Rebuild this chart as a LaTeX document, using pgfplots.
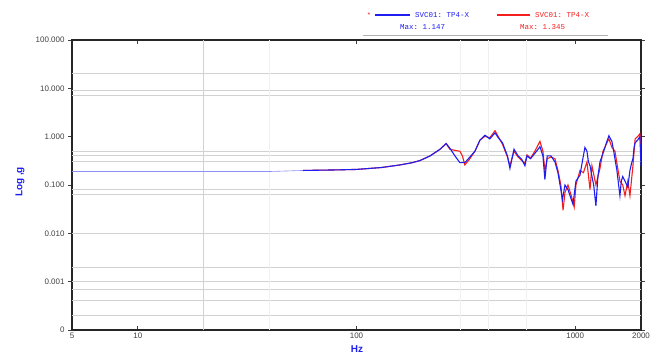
\documentclass[border=0pt]{standalone}
\usepackage{pgfplots}
\pgfplotsset{compat=1.18}
\usepackage{fontspec}
\setmainfont{Liberation Sans}
\setmonofont{Liberation Mono}
\definecolor{cblue}{RGB}{30,30,240}
\definecolor{cred}{RGB}{245,30,30}
\definecolor{gridg}{RGB}{210,210,210}
\definecolor{gridf}{RGB}{240,240,240}
\pgfplotstableread{
f v
57 0.20
80 0.205
100 0.21
130 0.23
158 0.26
180 0.29
195 0.32
217 0.40
241 0.55
257 0.72
267 0.58
282 0.40
297 0.29
313 0.29
330 0.38
348 0.50
367 0.85
387 1.07
407 0.90
430 1.20
445 0.95
465 0.75
490 0.40
503 0.22
525 0.55
548 0.40
570 0.34
589 0.25
602 0.40
625 0.35
654 0.45
690 0.62
712 0.40
727 0.13
745 0.40
775 0.40
808 0.30
834 0.18
860 0.08
875 0.05
898 0.10
927 0.08
960 0.05
977 0.04
1008 0.12
1052 0.16
1070 0.25
1090 0.40
1108 0.60
1132 0.50
1150 0.30
1169 0.25
1193 0.15
1215 0.10
1244 0.037
1270 0.15
1298 0.30
1340 0.45
1397 0.80
1427 1.05
1450 0.90
1472 0.80
1500 0.50
1520 0.35
1552 0.20
1580 0.10
1602 0.06
1625 0.12
1650 0.15
1690 0.12
1740 0.09
1780 0.20
1810 0.28
1837 0.35
1860 0.60
1880 0.75
1930 0.85
1977 1.00
2000 0.25
}\blue
\pgfplotstableread{
f v
57 0.20
80 0.205
100 0.21
130 0.23
158 0.26
180 0.29
195 0.32
217 0.40
241 0.55
257 0.72
267 0.55
282 0.52
297 0.50
305 0.40
313 0.26
330 0.35
348 0.50
367 0.85
387 1.02
407 0.95
430 1.33
445 1.00
465 0.70
490 0.38
503 0.25
525 0.50
548 0.38
570 0.32
589 0.28
602 0.42
625 0.36
654 0.50
690 0.80
712 0.50
727 0.20
745 0.35
775 0.38
808 0.35
834 0.20
860 0.10
880 0.03
898 0.07
927 0.10
960 0.06
990 0.035
1008 0.10
1052 0.20
1090 0.18
1132 0.30
1169 0.08
1193 0.25
1244 0.10
1298 0.22
1340 0.50
1397 0.75
1427 0.90
1472 0.60
1520 0.50
1552 0.28
1602 0.12
1650 0.10
1690 0.06
1740 0.12
1780 0.06
1837 0.25
1880 0.90
1930 1.00
1977 1.15
2000 0.60
}\red
\pgfplotstableread{
f v
5 0.19
20 0.19
40 0.19
57 0.20
}\low
\begin{document}
\begin{tikzpicture}
\useasboundingbox (-72bp,-27bp) rectangle (598bp,330bp);
\begin{axis}[
  at={(0,0)}, anchor=south west, scale only axis,
  width=569bp, height=290bp,
  xmode=log, ymode=log,
  xmin=5, xmax=2000, ymin=1e-4, ymax=100,
  xtick={5,10,100,1000,2000}, xticklabels={5,10,100,1000,2000},
  ytick={1e-4,1e-3,1e-2,1e-1,1,10,100},
  yticklabels={0,0.001,0.010,0.100,1.000,10.000,100.000},
  xminorticks=false, yminorticks=false,
  xtick align=inside, ytick align=outside,
  major tick length=4bp,
  tick style={black!75, line width=0.7bp},
  tick label style={font=\fontsize{8}{9}\selectfont, text=black!75},
  xticklabel style={yshift=1bp},
  axis line style={black!85, line width=1.2bp},
  clip=true,
]
% grid lines
\foreach \yy in {20,9,7,0.5,0.4,0.3,0.08,0.065,0.01,0.002,0.001,0.0007,0.0004,0.0002}{
  \edef\tmp{\noexpand\draw[gridg, line width=0.9bp] (axis cs:5,\yy) -- (axis cs:2000,\yy);}\tmp
}
\foreach \xx in {40,300,400,600}{
  \edef\tmp{\noexpand\draw[gridf, line width=0.8bp] (axis cs:\xx,1e-4) -- (axis cs:\xx,100);}\tmp
}
\draw[gridg, line width=0.9bp] (axis cs:20,1e-4) -- (axis cs:20,100);
\addplot[cblue!50, line width=0.6bp, no marks] table[x=f,y=v]{\low};
\addplot[cred, line width=1.1bp, no marks] table[x=f,y=v]{\red};
\addplot[cblue, line width=1.1bp, no marks] table[x=f,y=v]{\blue};
\end{axis}
% legend
\node[cred, font=\fontsize{7}{8}\selectfont] at (297bp,315bp) {*};
\draw[cblue, line width=1.1bp] (303bp,315bp) -- (338bp,315bp);
\node[cblue, anchor=west, inner sep=0pt, font=\ttfamily\fontsize{7.5}{8}\selectfont] at (343bp,315bp) {SVC01: TP4-X};
\draw[cred, line width=1.1bp] (425bp,315bp) -- (458bp,315bp);
\node[cred, anchor=west, inner sep=0pt, font=\ttfamily\fontsize{7.5}{8}\selectfont] at (463bp,315bp) {SVC01: TP4-X};
\node[cblue, anchor=west, inner sep=0pt, font=\ttfamily\fontsize{7.5}{8}\selectfont] at (328bp,303bp) {Max: 1.147};
\node[cred, anchor=west, inner sep=0pt, font=\ttfamily\fontsize{7.5}{8}\selectfont] at (448bp,303bp) {Max: 1.345};
\draw[black!30, line width=0.8bp] (291bp,295bp) -- (536bp,295bp);
% axis labels
\node[cblue, rotate=90, font=\bfseries\fontsize{10}{11}\selectfont] at (-52bp,148bp) {Log ,g};
\node[cblue, font=\bfseries\fontsize{10}{11}\selectfont] at (285bp,-19bp) {Hz};
\end{tikzpicture}
\end{document}
